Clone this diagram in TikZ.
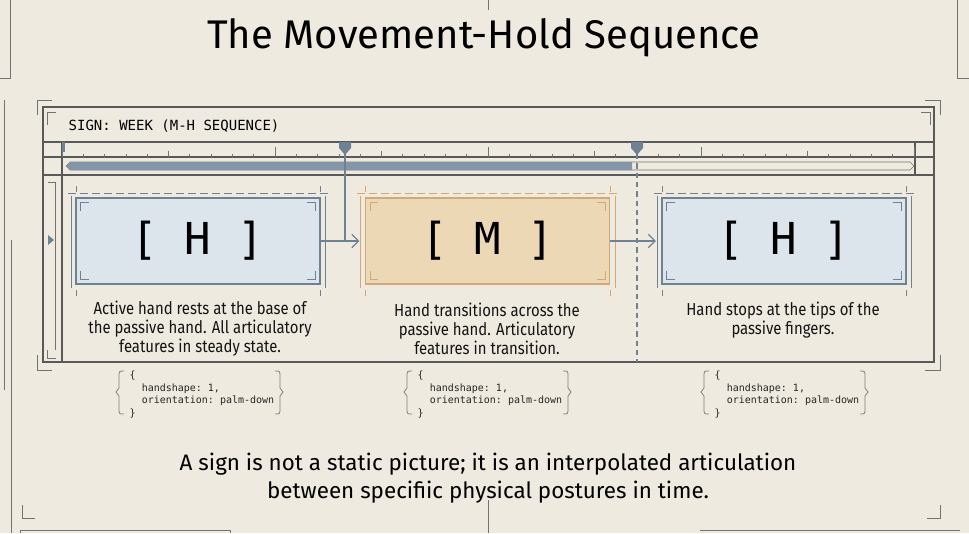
\documentclass[tikz,border=0pt]{standalone}
\usepackage{fontspec}
\setmainfont{Fira Sans}
\setmonofont{DejaVu Sans Mono}
\newfontfamily\condf[FakeStretch=0.86]{Fira Sans}
\usetikzlibrary{arrows.meta}
\begin{document}
\begin{tikzpicture}[x=0.75pt,y=-0.75pt,
  frame/.style={draw=black!65,line width=0.9pt},
  thin/.style={draw=black!55,line width=0.5pt},
  hbox/.style={draw=bordB,fill=fillB,line width=1.2pt,minimum width=183pt,minimum height=64.5pt,inner sep=0pt,font=\ttfamily\fontsize{33}{33}\selectfont},
  mbox/.style={hbox,draw=bordM,fill=fillM},
  desc/.style={align=center,font=\condf\fontsize{13}{14.3}\selectfont,text=black!92},
  code/.style={align=left,font=\ttfamily\fontsize{7.5}{9.6}\selectfont,text=black!85,anchor=north west},
  arr/.style={draw=bordB,line width=0.9pt,->,>={Straight Barb[length=5pt]}},
  mk/.style={fill=bordB,draw=none}]
\definecolor{bg}{HTML}{EEEADF}
\definecolor{fillB}{HTML}{DCE4EC}
\definecolor{bordB}{HTML}{6F8293}
\definecolor{fillM}{HTML}{EDD8B6}
\definecolor{bordM}{HTML}{D2A876}
\definecolor{barC}{HTML}{8396A8}
\fill[bg] (0,0) rectangle (969,533);
\useasboundingbox (0,0) rectangle (969,533);
% title
\node (title) at (484,38) {\fontsize{30}{30}\selectfont The Movement-Hold Sequence};
% outer frame
\draw[frame] (43,107) rectangle (934,362);
\draw[thin] (37,115) -- (37,100) -- (52,100);
\draw[thin] (940,115) -- (940,100) -- (925,100);
\draw[thin] (37,355) -- (37,370) -- (52,370);
\draw[thin] (940,355) -- (940,370) -- (925,370);
\draw[thin] (47,125) -- (47,112) -- (56,112);
\draw[thin] (930,125) -- (930,112) -- (921,112);
\draw[thin] (47,350) -- (47,358) -- (56,358);
\draw[frame] (43,142) -- (934,142);
\draw[frame] (43,157) -- (934,157);
\draw[frame] (43,175) -- (934,175);
\draw[frame] (62,142) -- (62,362);
\draw[frame] (915,142) -- (915,175);
\node[anchor=west,font=\ttfamily\fontsize{10.5}{11}\selectfont] (hdr) at (64,126) {SIGN: WEEK (M-H SEQUENCE)};
% ruler ticks
\foreach \i in {0,...,40}{
  \pgfmathsetmacro\xx{62+\i*21.3}
  \pgfmathsetmacro\len{mod(\i,10)==0 ? 10 : (mod(\i,5)==0 ? 6 : 3)}
  \draw[thin] (\xx,157) -- (\xx,157-\len);
}
% progress bar
\draw[thin,fill=bg] (70,162) -- (910,162) -- (914,166) -- (910,170) -- (70,170) -- (66,166) -- cycle;
\fill[barC] (70,162) -- (632,162) -- (632,170) -- (70,170) -- (66,166) -- cycle;
% markers
\fill[mk] (339,142) -- (351,142) -- (351,148) -- (345,155) -- (339,148) -- cycle;
\fill[mk] (631,142) -- (643,142) -- (643,148) -- (637,155) -- (631,148) -- cycle;
\fill[mk] (62,142) rectangle (65,152);
% guides
\foreach \a/\b/\c in {68/328/bordB,357/618/bordM,654/914/bordB}{
  \draw[\c,line width=0.5pt,dash pattern=on 6pt off 3pt] (\a,193) -- (\b,193);
  \draw[\c,line width=0.5pt] (\a+8,186) -- (\a+8,192) (\b-8,186) -- (\b-8,192);
  \draw[\c,line width=0.5pt] (\a+3,196) -- (\a+3,288) (\b-3,196) -- (\b-3,288);
  \draw[\c,line width=0.5pt] (\a+8,290) -- (\a+8,296) (\b-8,290) -- (\b-8,296);
}
% boxes
\node[hbox] (h1) at (198,241) {[ H ]};
\node[mbox] (m) at (487.5,241) {[ M ]};
\node[hbox] (h2) at (784,241) {[ H ]};
\foreach \n/\c in {h1/bordB,m/bordM,h2/bordB}{
  \draw[\c,line width=0.6pt] ([shift={(4pt,-10pt)}]\n.north west) -- ([shift={(4pt,-4pt)}]\n.north west) -- ([shift={(10pt,-4pt)}]\n.north west);
  \draw[\c,line width=0.6pt] ([shift={(-4pt,-10pt)}]\n.north east) -- ([shift={(-4pt,-4pt)}]\n.north east) -- ([shift={(-10pt,-4pt)}]\n.north east);
  \draw[\c,line width=0.6pt] ([shift={(4pt,10pt)}]\n.south west) -- ([shift={(4pt,4pt)}]\n.south west) -- ([shift={(10pt,4pt)}]\n.south west);
  \draw[\c,line width=0.6pt] ([shift={(-4pt,10pt)}]\n.south east) -- ([shift={(-4pt,4pt)}]\n.south east) -- ([shift={(-10pt,4pt)}]\n.south east);
}
% connectors
\coordinate (mk1) at (345,154);
\coordinate (mk2) at (637,154);
\coordinate (mk2b) at (637,362);
\draw[bordB,line width=0.9pt] (mk1) -- (345,241);
\draw[bordB,line width=0.9pt,dash pattern=on 4pt off 3pt] (mk2) -- (mk2b);
\draw[arr] (h1.east) -- ([xshift=-4pt]m.west);
\draw[arr] (m.east) -- ([xshift=-4pt]h2.west);
\fill[bordB] (48,235) -- (54,240) -- (48,245) -- cycle;
\draw[thin] (48,182) -- (55,182) -- (55,350);
% descriptions
\node[desc] (d1) at (200,329) {Active hand rests at the base of\\the passive hand. All articulatory\\features in steady state.};
\node[desc] (d2) at (487,329) {Hand transitions across the\\passive hand. Articulatory\\features in transition.};
\node[desc] (d3) at (783,320) {Hand stops at the tips of the\\passive fingers.};
% code blocks
\foreach \x/\nm in {125/c1,413/c2,710/c3}{
  \node[code] (\nm) at (\x,366) {\{\\ \ \ handshape: 1,\\ \ \ orientation: palm-down\\\}};
  \draw[black!50,line width=0.6pt] (\x-1,371) .. controls (\x-6,371) .. (\x-6,377) -- (\x-6,388) -- (\x-9,392) -- (\x-6,396) -- (\x-6,408) .. controls (\x-6,414) .. (\x-1,414);
  \draw[black!50,line width=0.6pt] (\x+150,371) .. controls (\x+155,371) .. (\x+155,377) -- (\x+155,388) -- (\x+158,392) -- (\x+155,396) -- (\x+155,408) .. controls (\x+155,414) .. (\x+150,414);
}
% bottom text
\node[align=center,font=\fontsize{16.8}{20.5}\selectfont] (foot) at (488,478) {A sign is not a static picture; it is an interpolated articulation\\between speci{f}i{}ic physical postures in time.};
% decorations
\draw[thin] (22,505) -- (22,518) -- (35,518);
\draw[thin] (940,505) -- (940,518) -- (927,518);
\draw[thin] (0,78) -- (10,78) -- (10,0);
\draw[thin] (957,78) -- (957,0);
\draw[thin] (957,78) -- (969,78);
\draw[thin] (4,100) -- (4,390);
\draw[thin] (11,240) -- (11,533);
\draw[thin] (20,533) -- (20,530) -- (230,530) -- (230,533);
\draw[thin] (488,500) -- (488,533);
\draw[thin] (488,0) -- (488,10);
\draw[thin] (700,530) -- (960,530);
\end{tikzpicture}
\end{document}
